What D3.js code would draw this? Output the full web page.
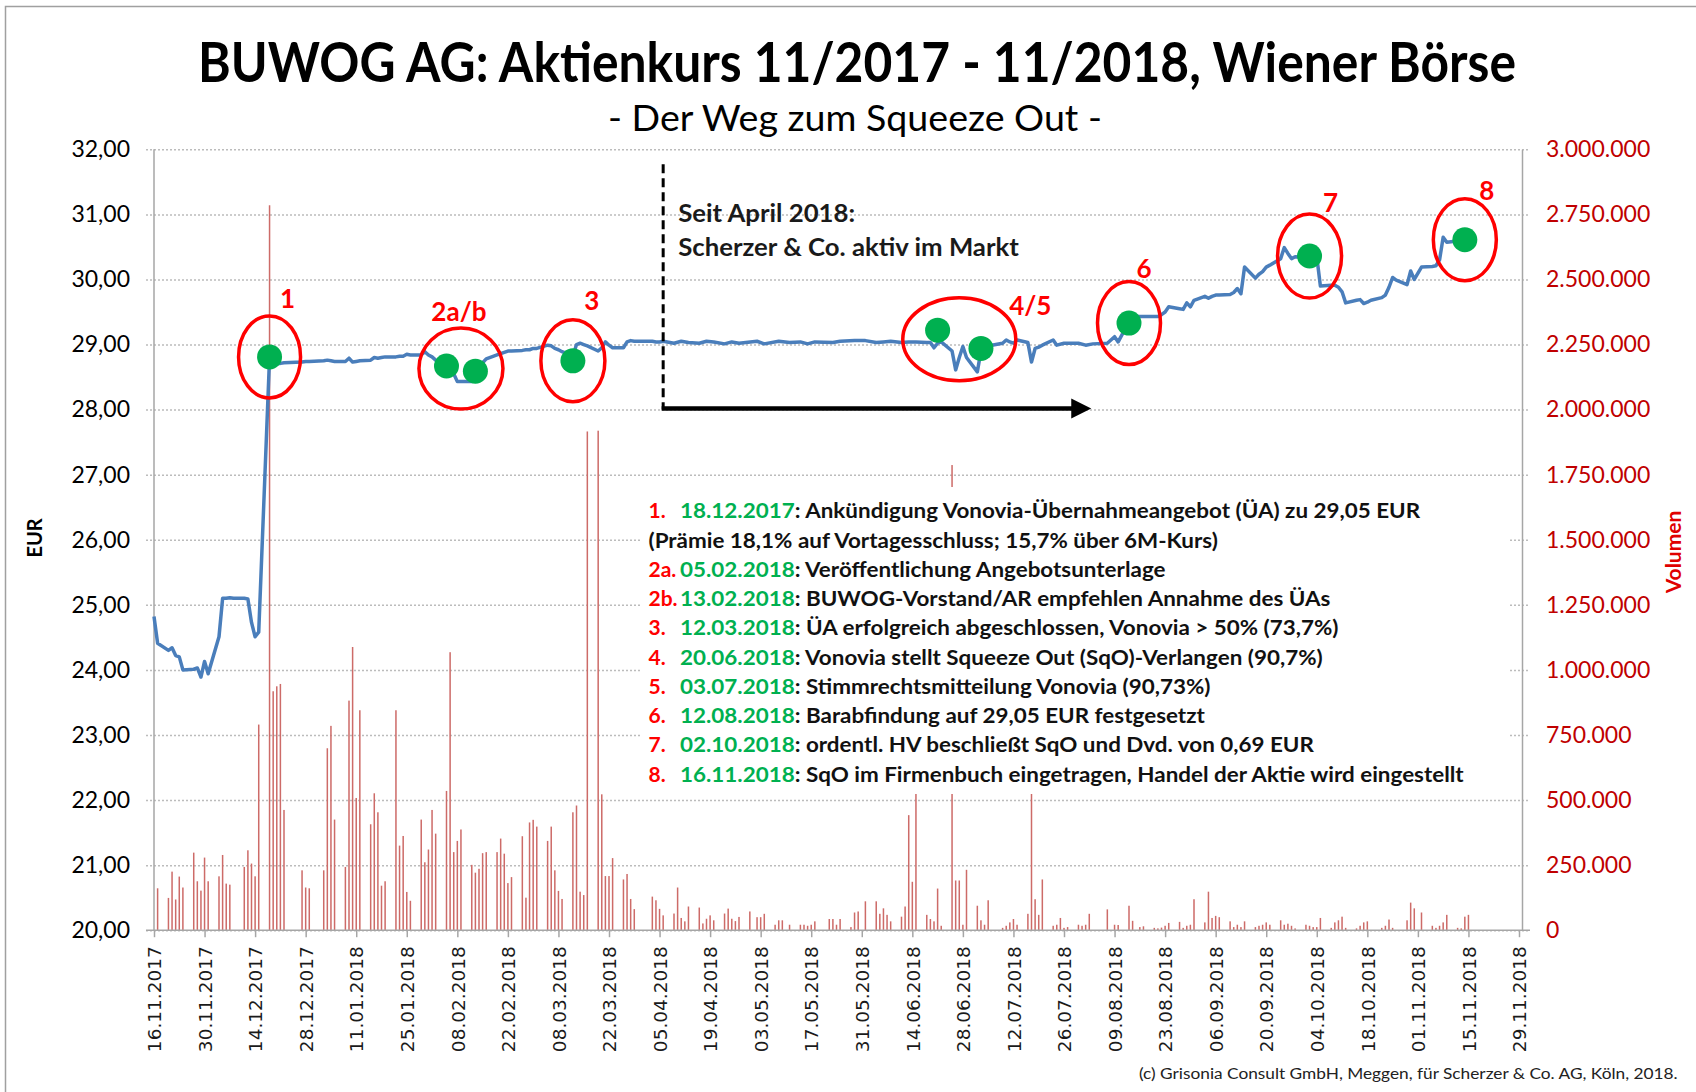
<!DOCTYPE html>
<html>
<head>
<meta charset="utf-8">
<script src="https://cdn.jsdelivr.net/npm/d3@7"></script>
<style>
  body { margin: 0; background: #fff; }
  svg { display: block; font-family: Lato, "Open Sans", sans-serif; }
</style>
</head>
<body>
<svg class="graphic" width="1696" height="1092"></svg>
<script>
var xTickLabels = ["16.11.2017", "30.11.2017", "14.12.2017", "28.12.2017", "11.01.2018", "25.01.2018",
  "08.02.2018", "22.02.2018", "08.03.2018", "22.03.2018", "05.04.2018", "19.04.2018", "03.05.2018",
  "17.05.2018", "31.05.2018", "14.06.2018", "28.06.2018", "12.07.2018", "26.07.2018", "09.08.2018",
  "23.08.2018", "06.09.2018", "20.09.2018", "04.10.2018", "18.10.2018", "01.11.2018", "15.11.2018",
  "29.11.2018"];
var priceTicks = [20, 21, 22, 23, 24, 25, 26, 27, 28, 29, 30, 31, 32];
var volumeTicks = [0, 250000, 500000, 750000, 1000000, 1250000, 1500000, 1750000, 2000000,
  2250000, 2500000, 2750000, 3000000];

// closing price EUR
var priceSeries = [
  ["2017-11-16", 24.82], ["2017-11-17", 24.41], ["2017-11-20", 24.30], ["2017-11-21", 24.34],
  ["2017-11-22", 24.22], ["2017-11-23", 24.20], ["2017-11-24", 24.00], ["2017-11-27", 24.01],
  ["2017-11-28", 24.03], ["2017-11-29", 23.89], ["2017-11-30", 24.13], ["2017-12-01", 23.94],
  ["2017-12-04", 24.51], ["2017-12-05", 25.10], ["2017-12-06", 25.10], ["2017-12-07", 25.11],
  ["2017-12-08", 25.10], ["2017-12-11", 25.10], ["2017-12-12", 25.09], ["2017-12-13", 24.73],
  ["2017-12-14", 24.51], ["2017-12-15", 24.58], ["2017-12-18", 28.80], ["2017-12-19", 28.72],
  ["2017-12-20", 28.71], ["2017-12-21", 28.71], ["2017-12-22", 28.72], ["2017-12-27", 28.73],
  ["2017-12-28", 28.74], ["2017-12-29", 28.74], ["2018-01-02", 28.75], ["2018-01-03", 28.76],
  ["2018-01-04", 28.75], ["2018-01-05", 28.74], ["2018-01-08", 28.74], ["2018-01-09", 28.79],
  ["2018-01-10", 28.73], ["2018-01-11", 28.74], ["2018-01-12", 28.75], ["2018-01-15", 28.76],
  ["2018-01-16", 28.80], ["2018-01-17", 28.79], ["2018-01-18", 28.80], ["2018-01-19", 28.81],
  ["2018-01-22", 28.81], ["2018-01-23", 28.82], ["2018-01-24", 28.82], ["2018-01-25", 28.85],
  ["2018-01-26", 28.84], ["2018-01-29", 28.84], ["2018-01-30", 28.89], ["2018-01-31", 28.84],
  ["2018-02-01", 28.81], ["2018-02-02", 28.76], ["2018-02-05", 28.68], ["2018-02-06", 28.62],
  ["2018-02-07", 28.55], ["2018-02-08", 28.43], ["2018-02-09", 28.43], ["2018-02-12", 28.43],
  ["2018-02-13", 28.45], ["2018-02-14", 28.62], ["2018-02-15", 28.72], ["2018-02-16", 28.78],
  ["2018-02-19", 28.84], ["2018-02-20", 28.86], ["2018-02-21", 28.88], ["2018-02-22", 28.90],
  ["2018-02-23", 28.90], ["2018-02-26", 28.91], ["2018-02-27", 28.92], ["2018-02-28", 28.92],
  ["2018-03-01", 28.94], ["2018-03-02", 28.94], ["2018-03-05", 28.99], ["2018-03-06", 28.98],
  ["2018-03-07", 28.94], ["2018-03-08", 28.92], ["2018-03-09", 28.89], ["2018-03-12", 28.82],
  ["2018-03-13", 29.00], ["2018-03-14", 29.02], ["2018-03-15", 29.00], ["2018-03-16", 28.98],
  ["2018-03-19", 28.90], ["2018-03-20", 28.95], ["2018-03-21", 29.04], ["2018-03-22", 28.99],
  ["2018-03-23", 28.95], ["2018-03-26", 28.95], ["2018-03-27", 29.04], ["2018-03-28", 29.06],
  ["2018-03-29", 29.05], ["2018-04-03", 29.05], ["2018-04-04", 29.04], ["2018-04-05", 29.04],
  ["2018-04-06", 29.05], ["2018-04-09", 29.02], ["2018-04-11", 29.05], ["2018-04-13", 29.03],
  ["2018-04-16", 29.02], ["2018-04-18", 29.05], ["2018-04-20", 29.04], ["2018-04-23", 29.01],
  ["2018-04-25", 29.04], ["2018-04-27", 29.02], ["2018-05-02", 29.05], ["2018-05-04", 29.01],
  ["2018-05-08", 29.05], ["2018-05-11", 29.03], ["2018-05-14", 29.04], ["2018-05-16", 29.01],
  ["2018-05-18", 29.04], ["2018-05-23", 29.03], ["2018-05-25", 29.05], ["2018-05-29", 29.06],
  ["2018-06-01", 29.06], ["2018-06-04", 29.03], ["2018-06-06", 29.04], ["2018-06-08", 29.05],
  ["2018-06-11", 29.03], ["2018-06-13", 29.04], ["2018-06-15", 29.04], ["2018-06-18", 29.03],
  ["2018-06-19", 29.03], ["2018-06-20", 28.95], ["2018-06-21", 29.02], ["2018-06-22", 29.04],
  ["2018-06-25", 28.90], ["2018-06-26", 28.61], ["2018-06-27", 28.80], ["2018-06-28", 28.97],
  ["2018-06-29", 28.80], ["2018-07-02", 28.58], ["2018-07-03", 28.90], ["2018-07-04", 28.97],
  ["2018-07-05", 29.00], ["2018-07-06", 28.99], ["2018-07-09", 29.02], ["2018-07-10", 29.07],
  ["2018-07-11", 29.04], ["2018-07-12", 29.02], ["2018-07-13", 29.07], ["2018-07-16", 29.03],
  ["2018-07-17", 28.73], ["2018-07-18", 28.94], ["2018-07-19", 28.96], ["2018-07-20", 28.99],
  ["2018-07-23", 29.07], ["2018-07-24", 28.99], ["2018-07-26", 29.02], ["2018-07-30", 29.02],
  ["2018-08-01", 28.99], ["2018-08-03", 29.01], ["2018-08-07", 29.02], ["2018-08-09", 29.12],
  ["2018-08-10", 29.04], ["2018-08-13", 29.35], ["2018-08-14", 29.43], ["2018-08-16", 29.43],
  ["2018-08-20", 29.43], ["2018-08-21", 29.43], ["2018-08-22", 29.46], ["2018-08-23", 29.50],
  ["2018-08-24", 29.58], ["2018-08-27", 29.55], ["2018-08-28", 29.54], ["2018-08-29", 29.64],
  ["2018-08-30", 29.58], ["2018-08-31", 29.68], ["2018-09-03", 29.74], ["2018-09-04", 29.71],
  ["2018-09-05", 29.74], ["2018-09-06", 29.76], ["2018-09-07", 29.76], ["2018-09-10", 29.77],
  ["2018-09-11", 29.80], ["2018-09-12", 29.86], ["2018-09-13", 29.78], ["2018-09-14", 30.19],
  ["2018-09-17", 30.02], ["2018-09-18", 30.08], ["2018-09-19", 30.12], ["2018-09-20", 30.19],
  ["2018-09-21", 30.22], ["2018-09-24", 30.32], ["2018-09-25", 30.49], ["2018-09-26", 30.40],
  ["2018-09-27", 30.32], ["2018-09-28", 30.35], ["2018-10-01", 30.34], ["2018-10-02", 30.36],
  ["2018-10-03", 30.35], ["2018-10-04", 30.35], ["2018-10-05", 29.90], ["2018-10-08", 29.91],
  ["2018-10-09", 29.91], ["2018-10-10", 29.88], ["2018-10-11", 29.81], ["2018-10-12", 29.64],
  ["2018-10-15", 29.68], ["2018-10-16", 29.69], ["2018-10-17", 29.63], ["2018-10-18", 29.65],
  ["2018-10-19", 29.68], ["2018-10-22", 29.72], ["2018-10-23", 29.76], ["2018-10-24", 29.88],
  ["2018-10-25", 30.03], ["2018-10-26", 29.99], ["2018-10-29", 29.92], ["2018-10-30", 30.13],
  ["2018-10-31", 30.00], ["2018-11-02", 30.19], ["2018-11-05", 30.20], ["2018-11-06", 30.21],
  ["2018-11-07", 30.30], ["2018-11-08", 30.65], ["2018-11-09", 30.57], ["2018-11-12", 30.59],
  ["2018-11-13", 30.60], ["2018-11-14", 30.61]
];

// traded shares per day
var volumeSeries = [
  ["2017-11-17", 161000], ["2017-11-20", 124000], ["2017-11-21", 225000], ["2017-11-22", 118000],
  ["2017-11-23", 206000], ["2017-11-24", 164000], ["2017-11-27", 298000], ["2017-11-28", 188000],
  ["2017-11-29", 152000], ["2017-11-30", 279000], ["2017-12-01", 188000], ["2017-12-04", 207000],
  ["2017-12-05", 289000], ["2017-12-06", 179000], ["2017-12-07", 175000], ["2017-12-11", 243000],
  ["2017-12-12", 307000], ["2017-12-13", 256000], ["2017-12-14", 207000], ["2017-12-15", 790000],
  ["2017-12-18", 2785000], ["2017-12-19", 918000], ["2017-12-20", 937000], ["2017-12-21", 946000],
  ["2017-12-22", 462000], ["2017-12-27", 230000], ["2017-12-28", 164000], ["2017-12-29", 161000],
  ["2018-01-02", 230000], ["2018-01-03", 699000], ["2018-01-04", 785000], ["2018-01-05", 425000],
  ["2018-01-08", 243000], ["2018-01-09", 882000], ["2018-01-10", 1088000], ["2018-01-11", 508000],
  ["2018-01-12", 845000], ["2018-01-15", 407000], ["2018-01-16", 526000], ["2018-01-17", 453000],
  ["2018-01-18", 171000], ["2018-01-19", 188000], ["2018-01-22", 845000], ["2018-01-23", 325000],
  ["2018-01-24", 362000], ["2018-01-25", 147000], ["2018-01-26", 113000], ["2018-01-29", 425000],
  ["2018-01-30", 261000], ["2018-01-31", 310000], ["2018-02-01", 462000], ["2018-02-02", 371000],
  ["2018-02-05", 535000], ["2018-02-06", 1068000], ["2018-02-07", 300000], ["2018-02-08", 343000],
  ["2018-02-09", 387000], ["2018-02-12", 251000], ["2018-02-13", 221000], ["2018-02-14", 236000],
  ["2018-02-15", 296000], ["2018-02-16", 300000], ["2018-02-19", 300000], ["2018-02-20", 352000],
  ["2018-02-21", 294000], ["2018-02-22", 181000], ["2018-02-23", 204000], ["2018-02-26", 361000],
  ["2018-02-27", 125000], ["2018-02-28", 414000], ["2018-03-01", 424000], ["2018-03-02", 398000],
  ["2018-03-05", 343000], ["2018-03-06", 398000], ["2018-03-07", 230000], ["2018-03-08", 151000],
  ["2018-03-09", 120000], ["2018-03-12", 453000], ["2018-03-13", 479000], ["2018-03-14", 148000],
  ["2018-03-15", 135000], ["2018-03-16", 1916000], ["2018-03-19", 1919000], ["2018-03-20", 522000],
  ["2018-03-21", 208000], ["2018-03-22", 208000], ["2018-03-23", 277000], ["2018-03-26", 195000],
  ["2018-03-27", 216000], ["2018-03-28", 120000], ["2018-03-29", 81000], ["2018-04-03", 129000],
  ["2018-04-04", 115000], ["2018-04-05", 82000], ["2018-04-06", 57000], ["2018-04-09", 64000],
  ["2018-04-10", 164000], ["2018-04-11", 47000], ["2018-04-12", 34000], ["2018-04-13", 91000],
  ["2018-04-16", 87000], ["2018-04-17", 26000], ["2018-04-18", 44000], ["2018-04-19", 57000],
  ["2018-04-20", 38000], ["2018-04-23", 64000], ["2018-04-24", 83000], ["2018-04-25", 44000],
  ["2018-04-26", 35000], ["2018-04-27", 51000], ["2018-04-30", 72000], ["2018-05-02", 50000],
  ["2018-05-03", 50000], ["2018-05-04", 63000], ["2018-05-07", 21000], ["2018-05-08", 38000],
  ["2018-05-09", 38000], ["2018-05-11", 21000], ["2018-05-14", 21000], ["2018-05-15", 21000],
  ["2018-05-16", 17000], ["2018-05-17", 21000], ["2018-05-18", 34000], ["2018-05-22", 43000],
  ["2018-05-23", 43000], ["2018-05-24", 21000], ["2018-05-25", 43000], ["2018-05-28", 12000],
  ["2018-05-29", 68000], ["2018-05-30", 72000], ["2018-06-01", 111000], ["2018-06-04", 111000],
  ["2018-06-05", 63000], ["2018-06-06", 84000], ["2018-06-07", 59000], ["2018-06-08", 34000],
  ["2018-06-11", 52000], ["2018-06-12", 91000], ["2018-06-13", 442000], ["2018-06-14", 186000],
  ["2018-06-15", 1150000], ["2018-06-18", 59000], ["2018-06-19", 43000], ["2018-06-20", 34000],
  ["2018-06-21", 160000], ["2018-06-22", 17000], ["2018-06-25", 1787000], ["2018-06-26", 191000],
  ["2018-06-27", 191000], ["2018-06-28", 21000], ["2018-06-29", 232000], ["2018-07-02", 94000],
  ["2018-07-03", 38000], ["2018-07-04", 21000], ["2018-07-05", 115000], ["2018-07-09", 9000],
  ["2018-07-10", 17000], ["2018-07-11", 30000], ["2018-07-12", 43000], ["2018-07-13", 21000],
  ["2018-07-16", 63000], ["2018-07-17", 980000], ["2018-07-18", 119000], ["2018-07-19", 59000],
  ["2018-07-20", 195000], ["2018-07-23", 17000], ["2018-07-24", 21000], ["2018-07-25", 47000],
  ["2018-07-26", 9000], ["2018-07-27", 12000], ["2018-07-30", 21000], ["2018-07-31", 17000],
  ["2018-08-01", 21000], ["2018-08-02", 63000], ["2018-08-07", 80000], ["2018-08-09", 21000],
  ["2018-08-10", 20000], ["2018-08-13", 94000], ["2018-08-14", 36000], ["2018-08-16", 12000],
  ["2018-08-17", 15000], ["2018-08-20", 9000], ["2018-08-21", 7000], ["2018-08-22", 10000],
  ["2018-08-23", 17000], ["2018-08-24", 28000], ["2018-08-27", 32000], ["2018-08-28", 9000],
  ["2018-08-29", 17000], ["2018-08-30", 21000], ["2018-08-31", 119000], ["2018-09-03", 30000],
  ["2018-09-04", 148000], ["2018-09-05", 47000], ["2018-09-06", 55000], ["2018-09-07", 50000],
  ["2018-09-10", 34000], ["2018-09-11", 12000], ["2018-09-12", 21000], ["2018-09-13", 12000],
  ["2018-09-14", 34000], ["2018-09-17", 12000], ["2018-09-18", 17000], ["2018-09-19", 21000],
  ["2018-09-20", 30000], ["2018-09-21", 21000], ["2018-09-24", 38000], ["2018-09-25", 21000],
  ["2018-09-26", 25000], ["2018-09-27", 17000], ["2018-09-28", 7000], ["2018-10-01", 21000],
  ["2018-10-02", 17000], ["2018-10-03", 12000], ["2018-10-04", 12000], ["2018-10-05", 47000],
  ["2018-10-08", 9000], ["2018-10-09", 30000], ["2018-10-10", 38000], ["2018-10-11", 52000],
  ["2018-10-12", 9000], ["2018-10-15", 7000], ["2018-10-16", 17000], ["2018-10-17", 30000],
  ["2018-10-18", 34000], ["2018-10-22", 9000], ["2018-10-23", 17000], ["2018-10-24", 41000],
  ["2018-10-25", 9000], ["2018-10-29", 38000], ["2018-10-30", 106000], ["2018-10-31", 84000],
  ["2018-11-02", 68000], ["2018-11-05", 17000], ["2018-11-06", 9000], ["2018-11-07", 17000],
  ["2018-11-08", 30000], ["2018-11-09", 59000], ["2018-11-12", 9000], ["2018-11-13", 7000],
  ["2018-11-14", 52000], ["2018-11-15", 59000]
];

// green event markers
var dotDates = ["2017-12-18", "2018-02-05", "2018-02-13", "2018-03-12", "2018-06-21",
  "2018-07-03", "2018-08-13", "2018-10-02", "2018-11-14"];
var dotValues = [28.81, 28.67, 28.59, 28.75, 29.22, 28.94, 29.33, 30.36, 30.61];

var calloutLabels = ["1", "2a/b", "3", "4/5", "6", "7", "8"];

var eventNumbers = ["1.", "", "2a.", "2b.", "3.", "4.", "5.", "6.", "7.", "8."];
var eventDates = ["18.12.2017", "", "05.02.2018", "13.02.2018", "12.03.2018", "20.06.2018",
  "03.07.2018", "12.08.2018", "02.10.2018", "16.11.2018"];
var eventTexts = [
  ": Ankündigung Vonovia-Übernahmeangebot (ÜA) zu 29,05 EUR",
  "(Prämie 18,1% auf Vortagesschluss; 15,7% über 6M-Kurs)",
  ": Veröffentlichung Angebotsunterlage",
  ": BUWOG-Vorstand/AR empfehlen Annahme des ÜAs",
  ": ÜA erfolgreich abgeschlossen, Vonovia > 50% (73,7%)",
  ": Vonovia stellt Squeeze Out (SqO)-Verlangen (90,7%)",
  ": Stimmrechtsmitteilung Vonovia (90,73%)",
  ": Barabfindung auf 29,05 EUR festgesetzt",
  ": ordentl. HV beschließt SqO und Dvd. von 0,69 EUR",
  ": SqO im Firmenbuch eingetragen, Handel der Aktie wird eingestellt"
];

// layout for the hand-drawn ellipses (which dots they wrap, size, label offset)
var calloutLayout = [
  {dots: [0], rx: 31, ry: 41, dx: 18, dy: -49},
  {dots: [1, 2], rx: 42, ry: 40.5, dx: -2, dy: -48},
  {dots: [3], rx: 32, ry: 41, dx: 19, dy: -51},
  {dots: [4, 5], rx: 56.5, ry: 41.5, dx: 71, dy: -24},
  {dots: [6], rx: 31.5, ry: 41.5, dx: 15, dy: -45},
  {dots: [7], rx: 32, ry: 42, dx: 21, dy: -44},
  {dots: [8], rx: 31.5, ry: 41, dx: 22, dy: -40}
];

var plot = {left: 154, right: 1522, top: 149.3, bottom: 930.2},
    dateEnd = 1519;

var parseDate = d3.timeParse("%Y-%m-%d"),
    parseTick = d3.timeParse("%d.%m.%Y");

var de = d3.formatLocale({decimal: ",", thousands: ".", grouping: [3], currency: ["", " €"]});

var x = d3.scaleTime()
    .domain([parseTick(xTickLabels[0]), parseTick(xTickLabels[xTickLabels.length - 1])])
    .range([plot.left, dateEnd]);
var yPrice = d3.scaleLinear().domain([20, 32]).range([plot.bottom, plot.top]);
var yVol = d3.scaleLinear().domain([0, 3000000]).range([plot.bottom, plot.top]);

var svg = d3.select(".graphic");

// squeeze a text horizontally to the width it has in the original
function fitWidth(g, width) {
    var w = g.node().getBBox().width;
    g.attr("transform", g.attr("transform") + " scale(" + (width / w) + ",1)");
    return width / w;
}

// frame
svg.append("path")
    .attr("d", "M5.5,1092 V6.5 H1696")
    .attr("fill", "none")
    .attr("stroke", "#a0a0a0")
    .attr("stroke-width", 1.5);

// gridlines
var grid = svg.append("g")
    .attr("transform", "translate(" + (plot.left - 8) + ",0)")
    .call(d3.axisLeft(yPrice).tickValues(priceTicks).tickSize(-(plot.right - plot.left + 16)).tickFormat(""));
grid.select(".domain").remove();
grid.selectAll("line")
    .attr("stroke", "#bcbcbc")
    .attr("stroke-width", 1.5)
    .attr("stroke-dasharray", "2,2");

// volume bars
svg.append("g")
    .selectAll("rect")
    .data(volumeSeries)
    .enter()
    .append("rect")
    .attr("x", function(d) { return x(parseDate(d[0])) - 0.75; })
    .attr("width", 1.5)
    .attr("y", function(d) { return yVol(d[1]); })
    .attr("height", function(d) { return yVol(0) - yVol(d[1]); })
    .attr("fill", "#cd6b68");

// axis lines
svg.append("line")
    .attr("x1", plot.left).attr("x2", plot.left)
    .attr("y1", plot.top).attr("y2", plot.bottom)
    .attr("stroke", "#a6a6a6").attr("stroke-width", 1.5);
svg.append("line")
    .attr("x1", plot.left - 8).attr("x2", plot.right + 8)
    .attr("y1", plot.bottom).attr("y2", plot.bottom)
    .attr("stroke", "#a6a6a6").attr("stroke-width", 1.5);

var xAxis = svg.append("g")
    .attr("transform", "translate(0," + plot.bottom + ")")
    .call(d3.axisBottom(x)
        .tickValues(xTickLabels.map(parseTick))
        .tickSize(7)
        .tickFormat(d3.timeFormat("%d.%m.%Y")));
xAxis.select(".domain").remove();
xAxis.selectAll("line").attr("stroke", "#a6a6a6").attr("stroke-width", 1.5);
xAxis.selectAll("text")
    .attr("transform", "rotate(-90)")
    .attr("x", -16)
    .attr("y", 0)
    .attr("dy", "0.36em")
    .style("text-anchor", "end")
    .attr("font-family", "'DejaVu Sans', Verdana, sans-serif")
    .attr("font-size", 18.5)
    .attr("fill", "#1a1a1a");

var leftAxis = svg.append("g")
    .attr("transform", "translate(" + (plot.left - 8) + ",0)")
    .call(d3.axisLeft(yPrice).tickValues(priceTicks).tickSize(0).tickPadding(16)
        .tickFormat(function(d) { return de.format(".2f")(d); }));
leftAxis.select(".domain").remove();
leftAxis.selectAll("text")
    .attr("font-family", "Lato")
    .attr("font-size", 23)
    .attr("fill", "#000");

var rightAxis = svg.append("g")
    .attr("transform", "translate(" + plot.right + ",0)")
    .call(d3.axisRight(yVol).tickValues(volumeTicks).tickSizeInner(0).tickSizeOuter(0).tickPadding(24)
        .tickFormat(de.format(",d")));
rightAxis.select(".domain").attr("stroke", "#a6a6a6").attr("stroke-width", 1.5);
rightAxis.selectAll("text")
    .attr("font-family", "Lato")
    .attr("font-size", 23)
    .attr("fill", "#c00000");

// axis titles
svg.append("text")
    .attr("transform", "translate(42,538) rotate(-90)")
    .attr("text-anchor", "middle")
    .attr("font-weight", 700)
    .attr("font-size", 20)
    .text("EUR");
svg.append("text")
    .attr("transform", "translate(1681,552) rotate(-90)")
    .attr("text-anchor", "middle")
    .attr("font-weight", 700)
    .attr("font-size", 21)
    .attr("fill", "#e00000")
    .text("Volumen");

// white box of the event list sits over grid and bars
svg.append("rect")
    .attr("x", 640).attr("y", 487)
    .attr("width", 868).attr("height", 307)
    .attr("fill", "#fff");

// price line
var line = d3.line()
    .x(function(d) { return x(parseDate(d[0])); })
    .y(function(d) { return yPrice(d[1]); });

svg.append("path")
    .datum(priceSeries)
    .attr("d", line)
    .attr("fill", "none")
    .attr("stroke", "#4a7ebb")
    .attr("stroke-width", 3.5)
    .attr("stroke-linejoin", "round");

// "Seit April 2018" marker
var markStart = parseDate("2018-04-06"),
    markEnd = parseDate("2018-08-02");
svg.append("line")
    .attr("x1", x(markStart)).attr("x2", x(markStart))
    .attr("y1", yPrice(31.77)).attr("y2", yPrice(28))
    .attr("stroke", "#000").attr("stroke-width", 3)
    .attr("stroke-dasharray", "9,5");
svg.append("line")
    .attr("x1", x(markStart) - 1.5).attr("x2", x(markEnd) - 16)
    .attr("y1", yPrice(28) - 1).attr("y2", yPrice(28) - 1)
    .attr("stroke", "#000").attr("stroke-width", 4.5);
svg.append("path")
    .attr("d", "M" + (x(markEnd) + 2) + "," + (yPrice(28) - 1) +
        " l-20,-10 v20 z")
    .attr("fill", "#000");

var note1 = svg.append("g").attr("transform", "translate(" + (x(markStart) + 15) + ",222)");
note1.append("text").attr("font-weight", 700).attr("font-size", 24).attr("fill", "#1a1a1a")
    .text("Seit April 2018:");
var note2 = svg.append("g").attr("transform", "translate(" + (x(markStart) + 15) + ",256)");
note2.append("text").attr("font-weight", 700).attr("font-size", 24).attr("fill", "#1a1a1a")
    .text("Scherzer & Co. aktiv im Markt");
var noteScale = fitWidth(note2, 341);
note1.attr("transform", note1.attr("transform") + " scale(" + noteScale + ",1)");

// dots and ellipses
var dots = dotDates.map(function(d, i) {
    return {x: x(parseDate(d)), y: yPrice(dotValues[i])};
});

svg.append("g")
    .selectAll("circle")
    .data(dots)
    .enter()
    .append("circle")
    .attr("cx", function(d) { return d.x; })
    .attr("cy", function(d) { return d.y; })
    .attr("r", 12.5)
    .attr("fill", "#00b050");

var callout = svg.append("g")
    .selectAll("g")
    .data(calloutLayout)
    .enter()
    .append("g")
    .attr("transform", function(d) {
        var cx = d3.mean(d.dots, function(k) { return dots[k].x; }),
            cy = d3.mean(d.dots, function(k) { return dots[k].y; });
        return "translate(" + cx + "," + cy + ")";
    });

callout.append("ellipse")
    .attr("rx", function(d) { return d.rx; })
    .attr("ry", function(d) { return d.ry; })
    .attr("fill", "none")
    .attr("stroke", "#ff0000")
    .attr("stroke-width", 3.5);

callout.append("text")
    .attr("x", function(d) { return d.dx; })
    .attr("y", function(d) { return d.dy; })
    .attr("text-anchor", "middle")
    .attr("font-weight", 700)
    .attr("font-size", 26)
    .attr("fill", "#ff0000")
    .text(function(d, i) { return calloutLabels[i]; });

// event list
var listX = 648.5, dateX = 680, firstBase = 518.3, lineStep = 29.26, listScale = 1;
eventTexts.forEach(function(t, i) {
    var y = firstBase + i * lineStep;
    if (eventNumbers[i]) {
        svg.append("text")
            .attr("x", listX).attr("y", y)
            .attr("font-weight", 700).attr("font-size", 21)
            .attr("fill", "#ff0000")
            .text(eventNumbers[i]);
    }
    var g = svg.append("g")
        .attr("transform", "translate(" + (eventNumbers[i] ? dateX : listX) + "," + y + ")");
    var txt = g.append("text").attr("font-weight", 700).attr("font-size", 21).attr("fill", "#111");
    if (eventDates[i]) txt.append("tspan").attr("fill", "#00b050").text(eventDates[i]);
    txt.append("tspan").text(t);
    if (i === 0) listScale = (1421 - dateX) / g.node().getBBox().width;
    g.attr("transform", g.attr("transform") + " scale(" + listScale + ",1)");
});

// title, subtitle, footer
var title = svg.append("g").attr("transform", "translate(198,82)");
title.append("text").attr("font-weight", 700).attr("font-size", 56)
    .text("BUWOG AG: Aktienkurs 11/2017 - 11/2018, Wiener Börse");
fitWidth(title, 1318);

var subtitle = svg.append("g").attr("transform", "translate(608,131)");
subtitle.append("text").attr("font-size", 36).text("- Der Weg zum Squeeze Out -");
fitWidth(subtitle, 494);

var footer = svg.append("g").attr("transform", "translate(1139,1079)");
footer.append("text").attr("font-size", 16).attr("fill", "#222")
    .text("(c) Grisonia Consult GmbH, Meggen, für Scherzer & Co. AG, Köln, 2018.");
fitWidth(footer, 539);
</script>
</body>
</html>
